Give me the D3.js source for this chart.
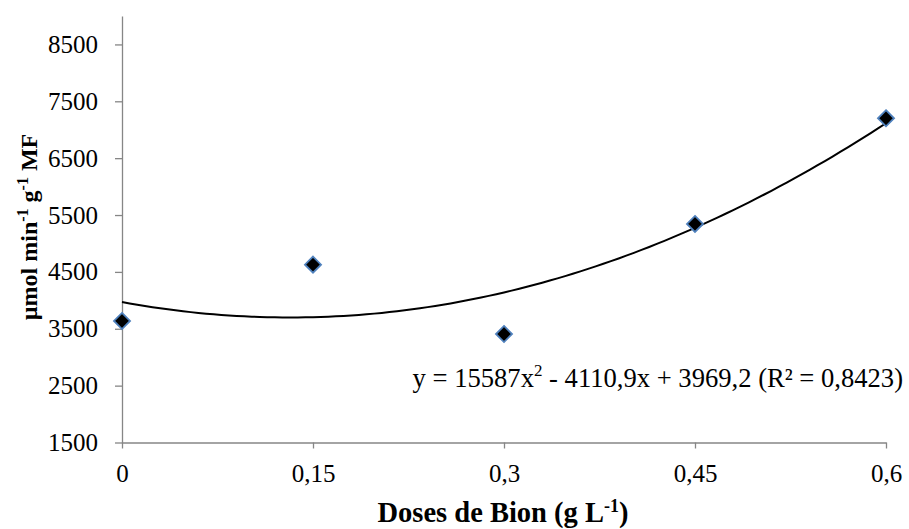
<!DOCTYPE html>
<html>
<head>
<meta charset="utf-8">
<script src="https://cdn.jsdelivr.net/npm/d3@7"></script>
<style>
  body { margin: 0; background: #fff; }
  text { font-family: "Liberation Serif", "Times New Roman", serif; }
</style>
</head>
<body>
<svg id="chart" width="909" height="529"></svg>
<script>
const doses = [0, 0.15, 0.3, 0.45, 0.6];
const activity = [3637, 4627, 3408, 5343, 7202];
const xTicks = [0, 0.15, 0.3, 0.45, 0.6];
const xTickLabels = ["0", "0,15", "0,3", "0,45", "0,6"];
const yTicks = [1500, 2500, 3500, 4500, 5500, 6500, 7500, 8500];
const coef = { a: 15587, b: -4110.9, c: 3969.2 };

const svg = d3.select("#chart");
const x = d3.scaleLinear().domain([0, 0.6]).range([122, 886]);
const y = d3.scaleLinear().domain([1500, 9000]).range([442.5, 16]);
const axisColor = "#868686";

// Y axis
const yAxis = svg.append("g").attr("transform", "translate(122,0)")
  .call(d3.axisLeft(y).tickValues(yTicks).tickSize(7).tickSizeOuter(0).tickPadding(17).tickFormat(d3.format("d")));
yAxis.select(".domain").attr("stroke", axisColor).attr("stroke-width", 1.3);
yAxis.selectAll(".tick line").attr("stroke", axisColor).attr("stroke-width", 1.3);
yAxis.selectAll(".tick text").attr("font-size", 25).attr("fill", "#000")
  .attr("font-family", "Liberation Serif, serif");

// X axis
const xAxis = svg.append("g").attr("transform", "translate(0,442.5)")
  .call(d3.axisBottom(x).tickValues(xTicks).tickSize(6).tickSizeOuter(0).tickPadding(16)
    .tickFormat((d, i) => xTickLabels[i]));
xAxis.select(".domain").attr("stroke", axisColor).attr("stroke-width", 1.3);
xAxis.selectAll(".tick line").attr("stroke", axisColor).attr("stroke-width", 1.3);
xAxis.selectAll(".tick text").attr("font-size", 25).attr("fill", "#000")
  .attr("font-family", "Liberation Serif, serif");

// Trend curve
const curvePts = d3.range(0, 101).map(i => {
  const xv = 0.6 * i / 100;
  return [xv, coef.a * xv * xv + coef.b * xv + coef.c];
});
svg.append("path")
  .attr("d", d3.line().x(d => x(d[0])).y(d => y(d[1]))(curvePts))
  .attr("fill", "none").attr("stroke", "#000").attr("stroke-width", 2);

// Points
svg.selectAll(".pt").data(doses.map((d, i) => [d, activity[i]])).enter()
  .append("path")
  .attr("class", "pt")
  .attr("transform", d => `translate(${x(d[0])},${y(d[1])})`)
  .attr("d", d3.symbol().type(d3.symbolDiamond2).size(165)())
  .attr("fill", "#000").attr("stroke", "#4F81BD").attr("stroke-width", 1.8);

// Equation
const eq = svg.append("text").attr("x", 903).attr("y", 387)
  .attr("text-anchor", "end").attr("font-size", 26.6).attr("fill", "#000");
eq.append("tspan").text("y = 15587x");
eq.append("tspan").attr("dy", -11).attr("font-size", 17).text("2");
eq.append("tspan").attr("dy", 11).text(" - 4110,9x + 3969,2 (R² = 0,8423)");

// X label
const xl = svg.append("text").attr("x", 503).attr("y", 522)
  .attr("text-anchor", "middle").attr("font-size", 28.5).attr("font-weight", "bold").attr("fill", "#000");
xl.append("tspan").text("Doses de Bion (g L");
xl.append("tspan").attr("dy", -10).attr("font-size", 18).text("-1");
xl.append("tspan").attr("dy", 10).text(")");

// Y label
const yl = svg.append("text").attr("transform", "translate(37,227) rotate(-90)")
  .attr("text-anchor", "middle").attr("font-size", 24).attr("font-weight", "bold").attr("fill", "#000");
yl.append("tspan").text("µmol min");
yl.append("tspan").attr("dy", -9).attr("font-size", 16).text("-1");
yl.append("tspan").attr("dy", 9).text(" g");
yl.append("tspan").attr("dy", -9).attr("font-size", 16).text("-1");
yl.append("tspan").attr("dy", 9).text(" MF");
</script>
</body>
</html>
